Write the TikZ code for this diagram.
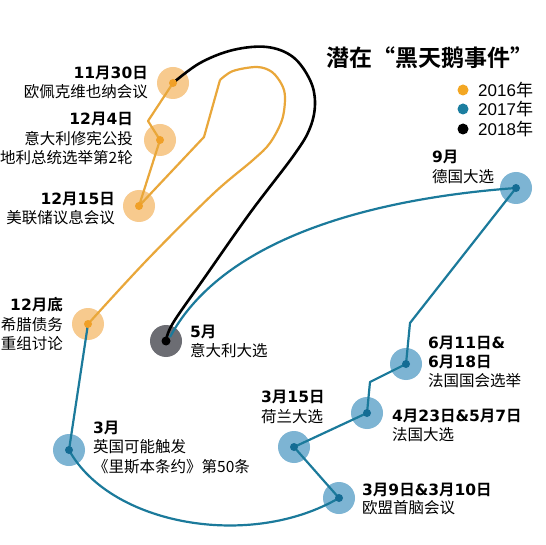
\documentclass[tikz,border=0pt]{standalone}
\usepackage{fontspec}
\setmainfont{Noto Sans CJK SC}[BoldFont={Noto Sans CJK SC Bold}]
\newfontfamily\dvfont{DejaVu Sans}
\newfontfamily\legfont{Liberation Sans}
\newcommand\bnum[1]{{\dvfont #1}}
\newcommand\legnum[1]{{\legfont #1}}
\definecolor{oline}{RGB}{233,167,58}
\definecolor{ohalo}{RGB}{247,202,142}
\definecolor{odot}{RGB}{240,160,40}
\definecolor{bline}{RGB}{27,122,155}
\definecolor{bhalo}{RGB}{125,180,211}
\definecolor{bdot}{RGB}{20,108,148}
\definecolor{ghalo}{RGB}{108,109,115}
\definecolor{legO}{RGB}{243,167,35}
\definecolor{legB}{RGB}{28,126,160}
\begin{document}
\begin{tikzpicture}[x=1pt,y=-1pt,
  halo/.style={circle,minimum size=32pt,inner sep=0,fill=#1,draw=none},
  lbl/.style={inner sep=0,font=\fontsize{15.5}{18}\selectfont},
  lblb/.style={inner sep=0,font=\fontsize{15.5}{18}\selectfont\bfseries},
  orangepath/.style={draw=oline,line width=2.2pt,line join=round},
  bluepath/.style={draw=bline,line width=2.2pt,line join=round},
  blackpath/.style={draw=black,line width=2.6pt,line join=round},
  legtxt/.style={inner sep=0,anchor=west,font=\fontsize{17}{19}\selectfont}]
\useasboundingbox[fill=white] (0,0) rectangle (546,545);

% halos
\node[halo=ohalo] (A) at (173,83) {};
\node[halo=ohalo] (B) at (160,140) {};
\node[halo=ohalo] (C) at (139,206) {};
\node[halo=ohalo] (D) at (88,324) {};
\node[halo=ghalo] (E) at (166,341) {};
\node[halo=bhalo] (F) at (69,450) {};
\node[halo=bhalo] (G) at (339,498) {};
\node[halo=bhalo] (H) at (294,447) {};
\node[halo=bhalo] (I) at (367,413) {};
\node[halo=bhalo] (J) at (406,364) {};
\node[halo=bhalo] (K) at (516,188) {};

% bend points
\coordinate (o1) at (148,121);
\coordinate (o2) at (204,137);
\coordinate (o3) at (220,80);
\coordinate (b1) at (370,382);
\coordinate (b2) at (410,323);
\coordinate (Eb) at (170,337);

% orange path
\draw[orangepath] (A.center) -- (o1) -- (B.center) -- (C.center) -- (o2) -- (o3)
  plot[smooth,tension=0.55] coordinates {(o3) (233,71) (257,67) (272,72) (282,85) (285,98) (282,120) (270,143) (253,160) (213,194) (147,260) (D.center)};

% blue path
\draw[bluepath] (D.center) -- (F.center)
  .. controls (110,525) and (250,550) .. (G.center)
  -- (H.center) -- (I.center) -- (b1) -- (J.center) -- (b2) -- (K.center)
  .. controls (380,198) and (225,235) .. (Eb);

% black path
\draw[blackpath] plot[smooth,tension=0.6] coordinates {(A.center) (200,63) (233,50) (267,47) (293,57) (310,80) (315,103) (310,128) (294,155) (250,213) (205,277) (173,323) (E.center)};

% dots
\foreach \n in {A,B,C,D} \fill[odot] (\n.center) circle (4pt);
\foreach \n in {F,G,H,I,J,K} \fill[bdot] (\n.center) circle (4pt);
\fill[black] (E.center) circle (4.5pt);

% labels
\node[lblb,anchor=east] (tA1) at (148,73) {\bnum{11}月\bnum{30}日};
\node[lbl,anchor=east] (tA2) at (148,92) {欧佩克维也纳会议};
\node[lblb,anchor=east] (tB1) at (133,119) {\bnum{12}月\bnum{4}日};
\node[lbl,anchor=east] (tB2) at (133,139) {意大利修宪公投};
\node[lbl,anchor=east] (tB3) at (133,158) {地利总统选举第2轮};
\node[lblb,anchor=east] (tC1) at (115,199) {\bnum{12}月\bnum{15}日};
\node[lbl,anchor=east] (tC2) at (115,218) {美联储议息会议};
\node[lblb,anchor=east] (tD1) at (63,305) {\bnum{12}月底};
\node[lbl,anchor=east] (tD2) at (63,325) {希腊债务};
\node[lbl,anchor=east] (tD3) at (63,343) {重组讨论};
\node[lblb,anchor=west] (tE1) at (190,332) {\bnum{5}月};
\node[lbl,anchor=west] (tE2) at (190,351) {意大利大选};
\node[lblb,anchor=west] (tF1) at (93,428) {\bnum{3}月};
\node[lbl,anchor=west] (tF2) at (93,447) {英国可能触发};
\node[lbl,anchor=west] (tF3) at (93,467) {《里斯本条约》第50条};
\node[lblb,anchor=west] (tH1) at (261,397) {\bnum{3}月\bnum{15}日};
\node[lbl,anchor=west] (tH2) at (261,417) {荷兰大选};
\node[lblb,anchor=west] (tI1) at (392,416) {\bnum{4}月\bnum{23}日\bnum{\&5}月\bnum{7}日};
\node[lbl,anchor=west] (tI2) at (392,435) {法国大选};
\node[lblb,anchor=west] (tJ1) at (428,343) {\bnum{6}月\bnum{11}日\bnum{\&}};
\node[lblb,anchor=west] (tJ2) at (428,362) {\bnum{6}月\bnum{18}日};
\node[lbl,anchor=west] (tJ3) at (428,381) {法国国会选举};
\node[lblb,anchor=west] (tG1) at (362,490) {\bnum{3}月\bnum{9}日\bnum{\&3}月\bnum{10}日};
\node[lbl,anchor=west] (tG2) at (362,508) {欧盟首脑会议};
\node[lblb,anchor=west] (tK1) at (432,157) {\bnum{9}月};
\node[lbl,anchor=west] (tK2) at (432,177) {德国大选};

% title and legend
\node[inner sep=0,anchor=west,font=\fontsize{23}{25}\selectfont\bfseries] (title) at (326,58) {潜在“黑天鹅事件”};
\fill[legO] (463,90) circle (5.5pt);
\fill[legB] (463,109) circle (5.5pt);
\fill[black] (463,129) circle (5.5pt);
\node[legtxt] (l1) at (478,90) {\legnum{2016}年};
\node[legtxt] (l2) at (478,109) {\legnum{2017}年};
\node[legtxt] (l3) at (478,129) {\legnum{2018}年};
\end{tikzpicture}
\end{document}
